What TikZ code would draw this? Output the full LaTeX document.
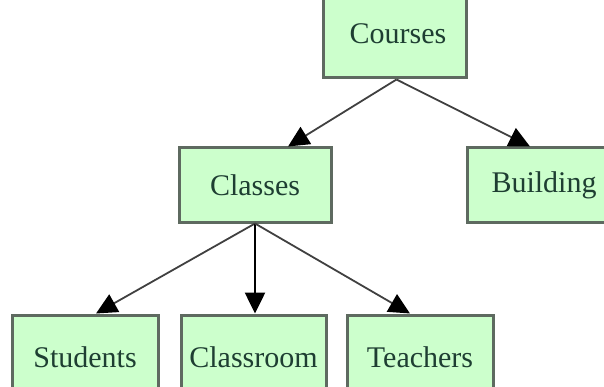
\documentclass[tikz,border=0pt]{standalone}
\usepackage{fontspec}
\setmainfont{Liberation Serif}
\usetikzlibrary{arrows.meta}
\definecolor{boxfill}{HTML}{CCFFCC}
\definecolor{boxedge}{HTML}{5E6A60}
\definecolor{labelink}{HTML}{1E3E32}
\tikzset{
  entity/.style={draw=boxedge, line width=3pt, fill=boxfill, rectangle,
    inner sep=0pt, text=labelink, font=\fontsize{30}{32}\selectfont},
  link/.style={draw=black!75, line width=1.8pt,
    -{Triangle[length=21pt,width=20pt,fill=black,color=black]}},
  mainlink/.style={link, draw=black, line width=2.6pt}
}
\begin{document}
\begin{tikzpicture}[x=1pt,y=1pt]
\useasboundingbox (0,0) rectangle (604,-387);
\clip (0,0) rectangle (604,-387);
% level 0
\node[entity, minimum width=143pt, minimum height=82pt] (courses) at (394.5,-37) {};
\node[text=labelink, font=\fontsize{30}{32}\selectfont] (coursestxt) at (398,-34) {Courses};
% level 1
\node[entity, minimum width=152pt, minimum height=74pt] (classes) at (255,-185) {Classes};
\node[entity, minimum width=154pt, minimum height=74pt] (building) at (544,-185) {Building};
% level 2
\node[entity, minimum width=146pt, minimum height=84pt] (students) at (85,-357) {Students};
\node[entity, minimum width=145pt, minimum height=84pt] (classroom) at (253.5,-357) {Classroom};
\node[entity, minimum width=146pt, minimum height=84pt] (teachers) at (420,-357) {Teachers};
% connectors
\draw[link] ([xshift=2pt]courses.south) -- ([xshift=33pt]classes.north);
\draw[link] ([xshift=2pt]courses.south) -- ([xshift=-14pt]building.north);
\draw[link] (classes.south) -- ([xshift=11pt]students.north);
\draw[mainlink] (classes.south) -- ([xshift=1.5pt]classroom.north);
\draw[link] (classes.south) -- ([xshift=-10pt]teachers.north);
\end{tikzpicture}
\end{document}
